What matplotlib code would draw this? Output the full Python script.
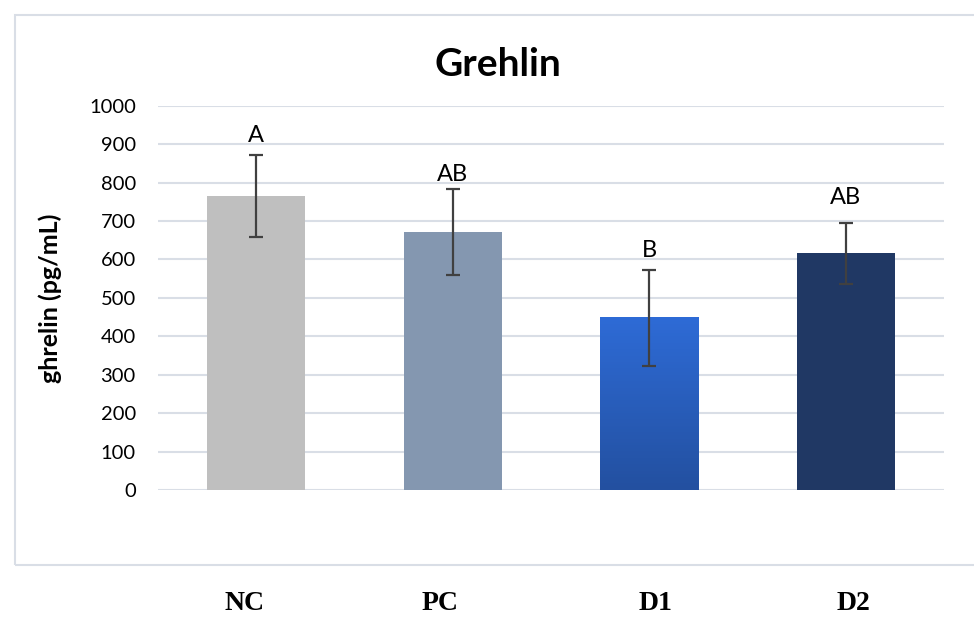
import numpy as np
import matplotlib.pyplot as plt
from matplotlib.patches import Rectangle
from matplotlib.colors import LinearSegmentedColormap
from matplotlib.transforms import ScaledTranslation

groups = ["NC", "PC", "D1", "D2"]
means = [765, 671, 450, 617]
err_low = [658, 560, 323, 536]
err_high = [872, 783, 572, 695]
letters = ["A", "AB", "B", "AB"]
letter_y = [906, 805, 607, 743]
bar_colors = ["#BFBFBF", "#8497B0", "#2B63C8", "#203864"]
yticks = list(range(0, 1001, 100))

plt.rcParams['font.family'] = ['Lato', 'DejaVu Sans']

fig = plt.figure(figsize=(9.74, 6.19), dpi=100)
ax = fig.add_axes([158 / 974, 1 - 490 / 619, (944 - 158) / 974, (490 - 105.7) / 619])

# chart border
fig.patches.append(Rectangle((15 / 974, 1 - 565 / 619), 1.0, (565 - 15) / 619,
                             transform=fig.transFigure, fill=False,
                             edgecolor="#D9DEE6", linewidth=1.5))

x = np.arange(len(groups))
means_a = np.array(means)
yerr = [means_a - np.array(err_low), np.array(err_high) - means_a]

bars = ax.bar(x, means, width=0.5, color=bar_colors, zorder=3)

# gradient on D1
d1 = bars[2]
bx, bw, bh = d1.get_x(), d1.get_width(), d1.get_height()
grad = np.linspace(0, 1, 256).reshape(-1, 1)
cm = LinearSegmentedColormap.from_list("d1", ["#2350A0", "#2E6BD6"])
im = ax.imshow(grad, cmap=cm, aspect="auto", origin="lower",
               extent=(bx, bx + bw, 0, bh), zorder=3.5)
im.set_clip_path(d1)

ax.errorbar(x, means, yerr=yerr, fmt="none", ecolor="#404040",
            elinewidth=1.6, capsize=5, capthick=1.6, zorder=5)

for xi, lab, ly in zip(x, letters, letter_y):
    ax.text(xi, ly, lab, ha="center", va="baseline", fontsize=17, color="black", zorder=6)

ax.set_xlim(-0.5, 3.5)
ax.set_ylim(0, 1000)
ax.set_yticks(yticks)
ax.set_yticklabels([str(t) for t in yticks], fontsize=14.5)
ax.yaxis.grid(True, color="#D9DEE6", linewidth=1.5, zorder=0)
ax.set_axisbelow(True)
ax.tick_params(axis="y", length=0, pad=16)
ax.tick_params(axis="x", length=0, pad=73)
ax.set_xticks(x)
ax.set_xticklabels(groups, fontsize=20, fontweight="bold",
                   family=["Liberation Serif", "DejaVu Serif"])
# the category names sit slightly off the bar centres in the original
for lbl, dx in zip(ax.get_xticklabels(), [-12, -13, 6, 8]):
    lbl.set_transform(lbl.get_transform() + ScaledTranslation(dx / 100, 0, fig.dpi_scale_trans))
for s in ax.spines.values():
    s.set_visible(False)

ax.set_ylabel("ghrelin (pg/mL)", fontsize=18, fontweight="bold")
ax.yaxis.set_label_coords((62.5 - 158) / 786, 0.5)
fig.text(497.5 / 974, 1 - 76 / 619, "Grehlin", ha="center", va="baseline",
         fontsize=28, fontweight="bold")

fig.savefig("out.png", dpi=100)
